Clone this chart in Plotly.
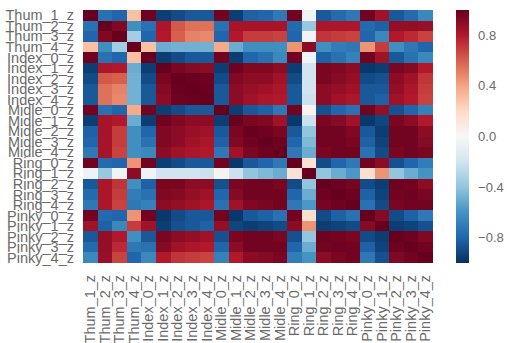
import plotly.graph_objects as go

# Joint-angle features (z-scored) for each finger
labels = [
    "Thum_1_z", "Thum_2_z", "Thum_3_z", "Thum_4_z",
    "Index_0_z", "Index_1_z", "Index_2_z", "Index_3_z", "Index_4_z",
    "Midle_0_z", "Midle_1_z", "Midle_2_z", "Midle_3_z", "Midle_4_z",
    "Ring_0_z", "Ring_1_z", "Ring_2_z", "Ring_3_z", "Ring_4_z",
    "Pinky_0_z", "Pinky_1_z", "Pinky_2_z", "Pinky_3_z", "Pinky_4_z",
]

# Pairwise correlation matrix, one row per feature
corr = [
    [1.00, -0.75, -0.80, 0.30, 0.98, -0.95, -0.90, -0.85, -0.85, 0.97, -0.95, -0.82, -0.80, -0.72, 0.97, -0.05, -0.85, -0.78, -0.72, 0.97, 0.85, -0.85, -0.78, -0.65],
    [-0.75, 1.00, 0.93, -0.62, -0.75, 0.82, 0.62, 0.55, 0.55, -0.75, 0.83, 0.83, 0.83, 0.83, -0.78, -0.38, 0.82, 0.82, 0.82, -0.78, -0.82, 0.88, 0.88, 0.87],
    [-0.80, 0.93, 1.00, -0.35, -0.80, 0.80, 0.60, 0.50, 0.48, -0.80, 0.80, 0.70, 0.70, 0.68, -0.80, -0.03, 0.72, 0.70, 0.68, -0.80, -0.65, 0.80, 0.75, 0.68],
    [0.30, -0.62, -0.35, 1.00, 0.30, -0.50, -0.48, -0.48, -0.48, 0.38, -0.50, -0.62, -0.62, -0.62, 0.45, 0.90, -0.62, -0.70, -0.72, 0.45, 0.70, -0.62, -0.72, -0.80],
    [0.98, -0.75, -0.80, 0.30, 1.00, -0.95, -0.90, -0.85, -0.85, 0.97, -0.95, -0.80, -0.75, -0.65, 0.97, -0.05, -0.82, -0.75, -0.68, 0.97, 0.85, -0.85, -0.75, -0.65],
    [-0.95, 0.82, 0.80, -0.50, -0.95, 1.00, 0.95, 0.92, 0.90, -0.95, 0.98, 0.93, 0.93, 0.90, -0.95, -0.20, 0.95, 0.93, 0.90, -0.97, -0.95, 0.95, 0.92, 0.80],
    [-0.90, 0.62, 0.60, -0.48, -0.90, 0.95, 1.00, 0.99, 0.98, -0.90, 0.93, 0.90, 0.90, 0.85, -0.90, -0.20, 0.95, 0.92, 0.88, -0.90, -0.88, 0.90, 0.85, 0.72],
    [-0.85, 0.55, 0.50, -0.48, -0.85, 0.92, 0.99, 1.00, 0.99, -0.85, 0.90, 0.87, 0.85, 0.82, -0.85, -0.20, 0.90, 0.88, 0.85, -0.85, -0.85, 0.88, 0.82, 0.70],
    [-0.85, 0.55, 0.48, -0.48, -0.85, 0.90, 0.98, 0.99, 1.00, -0.85, 0.90, 0.85, 0.82, 0.80, -0.85, -0.22, 0.90, 0.85, 0.82, -0.85, -0.82, 0.85, 0.80, 0.68],
    [0.97, -0.75, -0.80, 0.38, 0.97, -0.95, -0.90, -0.85, -0.85, 1.00, -0.95, -0.85, -0.82, -0.72, 0.97, 0.03, -0.88, -0.80, -0.75, 0.97, 0.88, -0.88, -0.80, -0.68],
    [-0.95, 0.83, 0.80, -0.50, -0.95, 0.98, 0.93, 0.90, 0.90, -0.95, 1.00, 0.95, 0.93, 0.85, -0.97, -0.22, 0.95, 0.92, 0.85, -0.97, -0.92, 0.95, 0.90, 0.80],
    [-0.82, 0.83, 0.70, -0.62, -0.80, 0.93, 0.90, 0.87, 0.85, -0.85, 0.95, 1.00, 0.98, 0.95, -0.85, -0.40, 0.97, 0.97, 0.93, -0.85, -0.95, 0.97, 0.97, 0.90],
    [-0.80, 0.83, 0.70, -0.62, -0.75, 0.93, 0.90, 0.85, 0.82, -0.82, 0.93, 0.98, 1.00, 0.98, -0.80, -0.45, 0.97, 0.97, 0.95, -0.82, -0.93, 0.97, 0.97, 0.92],
    [-0.72, 0.83, 0.68, -0.62, -0.65, 0.90, 0.85, 0.82, 0.80, -0.72, 0.85, 0.95, 0.98, 1.00, -0.72, -0.50, 0.95, 0.97, 0.97, -0.75, -0.90, 0.95, 0.97, 0.95],
    [0.97, -0.78, -0.80, 0.45, 0.97, -0.95, -0.90, -0.85, -0.85, 0.97, -0.97, -0.85, -0.80, -0.72, 1.00, 0.15, -0.90, -0.80, -0.72, 0.97, 0.90, -0.88, -0.80, -0.70],
    [-0.05, -0.38, -0.03, 0.90, -0.05, -0.20, -0.20, -0.20, -0.22, 0.03, -0.22, -0.40, -0.45, -0.50, 0.15, 1.00, -0.40, -0.50, -0.58, 0.18, 0.45, -0.40, -0.50, -0.60],
    [-0.85, 0.82, 0.72, -0.62, -0.82, 0.95, 0.95, 0.90, 0.90, -0.88, 0.95, 0.97, 0.97, 0.95, -0.90, -0.40, 1.00, 0.98, 0.96, -0.90, -0.95, 0.98, 0.97, 0.90],
    [-0.78, 0.82, 0.70, -0.70, -0.75, 0.93, 0.92, 0.88, 0.85, -0.80, 0.92, 0.97, 0.97, 0.97, -0.80, -0.50, 0.98, 1.00, 0.98, -0.82, -0.93, 0.97, 0.98, 0.95],
    [-0.72, 0.82, 0.68, -0.72, -0.68, 0.90, 0.88, 0.85, 0.82, -0.75, 0.85, 0.93, 0.95, 0.97, -0.72, -0.58, 0.96, 0.98, 1.00, -0.75, -0.90, 0.95, 0.97, 0.97],
    [0.97, -0.78, -0.80, 0.45, 0.97, -0.97, -0.90, -0.85, -0.85, 0.97, -0.97, -0.85, -0.82, -0.75, 0.97, 0.18, -0.90, -0.82, -0.75, 1.00, 0.92, -0.90, -0.82, -0.72],
    [0.85, -0.82, -0.65, 0.70, 0.85, -0.95, -0.88, -0.85, -0.82, 0.88, -0.92, -0.95, -0.93, -0.90, 0.90, 0.45, -0.95, -0.93, -0.90, 0.92, 1.00, -0.95, -0.93, -0.88],
    [-0.85, 0.88, 0.80, -0.62, -0.85, 0.95, 0.90, 0.88, 0.85, -0.88, 0.95, 0.97, 0.97, 0.95, -0.88, -0.40, 0.98, 0.97, 0.95, -0.90, -0.95, 1.00, 0.98, 0.93],
    [-0.78, 0.88, 0.75, -0.72, -0.75, 0.92, 0.85, 0.82, 0.80, -0.80, 0.90, 0.97, 0.97, 0.97, -0.80, -0.50, 0.97, 0.98, 0.97, -0.82, -0.93, 0.98, 1.00, 0.97],
    [-0.65, 0.87, 0.68, -0.80, -0.65, 0.80, 0.72, 0.70, 0.68, -0.68, 0.80, 0.90, 0.92, 0.95, -0.70, -0.60, 0.90, 0.95, 0.97, -0.72, -0.88, 0.93, 0.97, 1.00],
]

colorbar_ticks = [0.8, 0.4, 0.0, -0.4, -0.8]

# Diverging red-blue scale (blue = negative, red = positive)
rdbu_r = [
    [0.0, "#053061"], [0.1, "#2166ac"], [0.2, "#4393c3"], [0.3, "#92c5de"],
    [0.4, "#d1e5f0"], [0.5, "#f7f7f7"], [0.6, "#fddbc7"], [0.7, "#f4a582"],
    [0.8, "#d6604d"], [0.9, "#b2182b"], [1.0, "#67001f"],
]

text_font = dict(family="Liberation Sans, Arial, sans-serif", size=14.5, color="#6a6a6a")

fig = go.Figure(
    go.Heatmap(
        z=corr,
        x=labels,
        y=labels,
        colorscale=rdbu_r,
        zmin=-1.0,
        zmax=1.0,
        colorbar=dict(
            tickvals=colorbar_ticks,
            tickformat=".1f",
            thickness=13,
            len=1.0,
            lenmode="fraction",
            x=1.066,
            xanchor="left",
            xpad=0,
            ypad=0,
            y=0.5,
            yanchor="middle",
            outlinewidth=0,
            ticks="outside",
            ticklen=7,
            tickcolor="rgba(0,0,0,0)",
            tickfont=dict(family="Liberation Sans, Arial, sans-serif", size=13, color="#6a6a6a"),
        ),
    )
)

fig.update_layout(
    width=510,
    height=343,
    margin=dict(l=83, r=77, t=10, b=80, autoexpand=False),
    paper_bgcolor="white",
    plot_bgcolor="white",
    font=text_font,
)
fig.update_xaxes(
    tickmode="array", tickvals=labels, ticktext=labels, automargin=False,
    tickangle=-90, tickfont=text_font, showgrid=False, zeroline=False,
    ticks="", ticklabelstandoff=8,
)
fig.update_yaxes(
    tickmode="array", tickvals=labels, ticktext=labels, automargin=False,
    autorange="reversed", tickfont=text_font, showgrid=False, zeroline=False,
    ticks="", ticklabelstandoff=8,
)

fig.write_html("out.html")
